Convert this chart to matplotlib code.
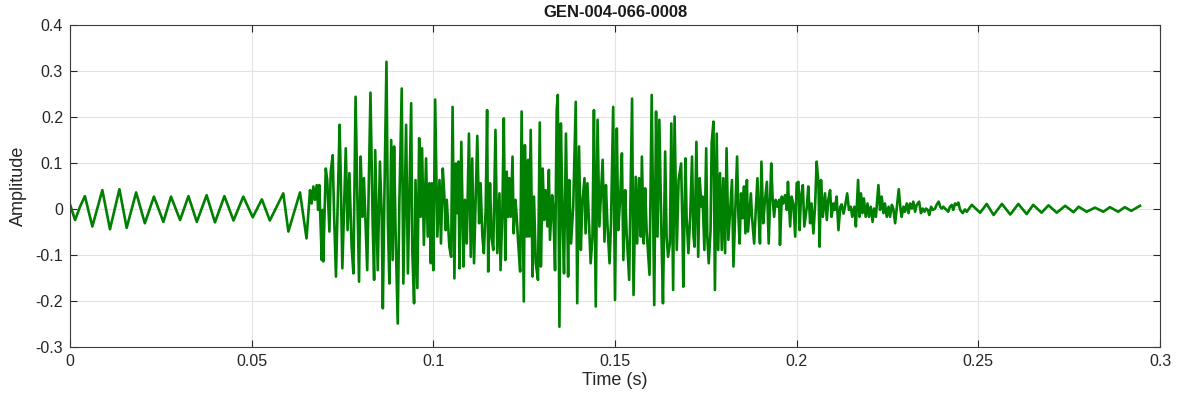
import numpy as np
import matplotlib
matplotlib.use("Agg")
import matplotlib.pyplot as plt

# peaks and troughs of the trace (time in ms)
time_ms = [
    0.0, 1.4, 2.75, 4.1, 6.15, 8.9, 11.0, 13.6, 15.6, 18.2, 20.6, 23.1, 25.7, 27.8,
    30.3, 32.6, 34.9, 37.6, 39.9, 42.5, 45.0, 47.7, 50.3, 52.8, 55.0, 58.7, 60.1,
    63.3, 65.1,
    66.06, 66.5, 66.98, 67.4, 67.9, 68.3, 68.6, 69.3, 69.55, 69.7, 70.4, 70.8, 71.4,
    71.76, 72.3, 72.7, 73.2, 74.2, 74.5, 74.96, 75.9, 76.4, 76.9, 77.5, 78.0, 78.6,
    79.1, 79.55, 80.0, 80.5, 80.9, 81.8, 82.7, 83.3, 83.7, 84.0, 84.7, 85.3, 85.8,
    86.1, 86.5, 87.1, 87.5, 87.9, 88.4, 88.8, 89.2, 89.6, 90.2, 90.65,
    91.3, 91.75, 92.5, 93.0, 93.9, 94.2, 94.7, 95.1, 95.6, 96.1, 96.5, 96.9, 97.4,
    98.0, 98.45, 98.9, 99.3, 99.6, 100.0, 100.5, 101.1, 101.7, 102.1, 102.6, 103.0,
    103.4, 103.7, 104.4, 104.9, 105.3, 105.8, 106.2, 106.6, 106.9, 107.2, 107.7,
    108.3, 108.7, 109.2, 109.8, 110.3, 110.7, 111.2, 112.1, 112.6, 113.0, 113.5,
    113.9, 114.4, 114.8, 115.1, 115.6, 116.0, 116.5, 117.1, 117.6, 118.2,
    118.5, 119.0, 119.4, 119.8, 120.2, 120.6, 120.9, 121.3, 121.8, 122.1, 122.6,
    122.95, 123.3, 123.9, 124.3, 124.9, 125.2, 125.7, 126.1, 126.4, 126.8, 127.3,
    127.7, 128.2, 128.8, 129.3, 129.6, 130.1, 130.5, 130.9, 131.4, 131.8, 132.1,
    132.7, 133.0, 133.5, 133.95, 134.25, 134.7, 135.1, 135.6, 135.97, 136.5, 137.1,
    137.4, 137.9, 138.5, 139.2, 139.6, 140.1, 140.6, 141.0, 141.6, 141.9, 142.4,
    143.3, 143.8, 144.2, 144.7, 145.2, 145.7, 146.6, 147.1, 147.5, 147.9, 148.5,
    148.9, 149.5, 150.0, 150.5, 150.9, 151.4, 151.9, 152.3, 152.8, 153.2, 153.9,
    154.7, 155.1, 155.7, 156.1, 156.6, 157.1, 157.4, 157.9, 158.3, 158.7, 159.5,
    160.1, 160.8, 161.3, 161.7, 162.2, 162.8, 163.2, 163.8, 164.2, 164.6, 165.1,
    165.5, 166.0, 166.4, 167.0, 167.5,
    168.2, 168.6, 168.8, 169.4, 169.7, 170.2, 170.7, 171.2, 171.6, 171.9, 172.4,
    172.9, 173.3, 173.8, 174.1, 174.6, 175.1, 175.4, 175.8, 176.3, 176.6, 177.1,
    177.5, 178.0, 178.4, 178.9, 179.4, 179.8, 180.3, 180.7, 181.2, 181.7, 182.2,
    182.6, 183.0, 183.6, 183.97, 184.3, 184.7, 185.1, 185.5, 185.9, 186.3, 186.6,
    187.4, 187.7, 188.3, 188.7, 189.2, 189.6, 189.9, 190.3, 190.8, 191.2, 191.8,
    192.3,
    193.0, 193.4, 193.8, 194.2, 194.7, 195.2, 195.4, 195.9, 196.3, 196.8, 197.3,
    197.6, 198.2, 198.6, 199.1, 199.6, 200.0, 200.5, 200.8, 201.2, 201.7, 202.1,
    202.8, 203.2, 203.7, 204.1, 204.6, 205.1, 205.5, 206.0, 206.3, 206.7, 207.2,
    207.8, 208.3, 208.7, 209.2, 209.6, 210.1, 210.5, 211.0, 211.5, 212.0, 212.4,
    212.9, 213.3, 213.9, 214.4, 214.9, 215.3, 215.9, 216.3, 216.9,
    217.3, 217.7, 218.1, 218.5, 219.0, 219.5, 219.9, 220.4, 220.9, 221.3, 221.8,
    222.5, 222.95, 223.4, 223.9, 224.3, 224.8, 225.3, 225.7, 226.2, 226.6, 227.1,
    227.5, 228.1, 228.6, 228.9, 229.4, 229.8, 230.3, 230.8, 231.2, 231.7, 232.1,
    232.6, 233.05, 233.7, 234.2, 234.7, 235.2, 235.6, 236.1, 236.5, 237.0, 237.5,
    238.1, 238.5, 239.1, 239.5, 239.9, 240.4, 240.8, 241.3, 241.7,
    242.2, 242.7, 243.1, 243.6, 244.05, 244.5, 245.0, 245.7, 246.3, 246.8, 248.2,
    250.5, 252.3, 254.2, 256.5, 258.8, 261.0, 263.3, 265.1, 267.4, 269.3, 271.6,
    273.9, 276.2, 277.6, 279.8, 282.1, 284.4, 286.2, 288.5, 290.3, 292.1, 294.5,
]

amplitude = [
    0.01, -0.024, 0.005, 0.028, -0.038, 0.041, -0.044, 0.043, -0.041, 0.036, -0.031,
    0.027, -0.028, 0.027, -0.024, 0.028, -0.028, 0.03, -0.029, 0.028, -0.025, 0.027,
    -0.018, 0.021, -0.025, 0.034, -0.049, 0.036, -0.064,
    0.041, 0.012, 0.049, 0.02, 0.052, -0.002, 0.052, -0.111, -0.002, -0.114, 0.088,
    0.063, -0.049, 0.081, 0.117, -0.017, -0.147, 0.183, 0.078, -0.129, 0.132, -0.046,
    0.078, -0.08, -0.14, 0.244, 0.02, -0.158, 0.114, -0.017, 0.067, -0.133, 0.253,
    -0.031, -0.154, 0.128, -0.133, 0.103, -0.017, -0.216, 0.012, 0.32, -0.031,
    -0.162, 0.15, -0.111, 0.136, -0.046, -0.249, 0.012,
    0.262, -0.162, 0.183, -0.14, 0.23, -0.089, -0.205, 0.063, -0.172, 0.154, -0.017,
    0.132, -0.078, 0.11, -0.06, 0.056, -0.118, 0.056, -0.133, 0.238, -0.06, 0.063,
    -0.075, 0.088, 0.034, -0.046, 0.02, -0.082, -0.104, 0.222, -0.151, 0.099, -0.009,
    0.103, -0.129, 0.146, -0.125, 0.02, -0.075, 0.164, -0.104, 0.11, -0.118, 0.159,
    -0.031, 0.056, -0.06, -0.096, -0.002, 0.215, -0.136, 0.056, -0.06, -0.089, 0.172,
    -0.096, 0.034,
    -0.133, -0.005, 0.197, -0.111, 0.081, -0.017, 0.067, -0.017, 0.114, -0.053, 0.02,
    -0.017, -0.067, -0.136, 0.212, -0.201, 0.139, -0.06, 0.107, -0.06, 0.172, -0.147,
    0.027, -0.118, -0.154, 0.188, -0.125, 0.088, -0.024, 0.041, -0.038, 0.085,
    -0.067, 0.03, 0.005, -0.133, 0.215, 0.248, -0.256, 0.186, -0.031, -0.14, 0.164,
    -0.147, 0.063, -0.075, 0.005, 0.233, -0.205, 0.136, -0.089, 0.012, 0.067, -0.053,
    0.056,
    -0.118, -0.06, 0.215, -0.212, 0.194, -0.038, 0.107, -0.071, 0.052, -0.031, -0.118,
    -0.031, 0.222, -0.198, 0.175, -0.046, 0.02, 0.121, -0.111, 0.041, -0.053, -0.154,
    0.24, -0.187, 0.07, -0.075, 0.067, -0.06, 0.114, -0.075, 0.045, -0.046, -0.143,
    0.248, -0.209, 0.212, -0.06, 0.194, -0.06, -0.205, 0.125, -0.06, -0.104, -0.075,
    0.186, -0.176, 0.201, -0.089, 0.063,
    0.099, -0.053, -0.169, 0.11, -0.017, -0.096, -0.017, 0.114, -0.06, -0.082, 0.146,
    -0.104, 0.067, 0.005, 0.027, -0.089, 0.132, -0.06, -0.118, -0.046, 0.143, 0.19,
    -0.176, 0.164, -0.089, 0.078, -0.089, 0.067, -0.096, 0.132, -0.067, -0.002, 0.063,
    -0.125, -0.031, 0.114, -0.017, -0.075, 0.034, -0.02, 0.049, -0.053, 0.063, -0.049,
    0.034, -0.017, -0.075, -0.009, 0.067, -0.024, -0.075, 0.103, -0.031, 0.012, 0.059,
    -0.075,
    0.099, 0.02, -0.017, 0.02, 0.005, 0.02, -0.078, 0.027, 0.012, 0.03, -0.002,
    0.059, -0.038, 0.027, 0.01, -0.06, 0.056, 0.059, -0.046, 0.027, 0.052, -0.038,
    0.005, 0.049, -0.031, 0.012, -0.053, 0.012, 0.103, 0.056, -0.082, 0.063, -0.017,
    0.034, -0.024, 0.02, 0.041, -0.017, 0.012, -0.002, 0.027, -0.046, 0.005, 0.01,
    -0.01, 0.005, 0.034, -0.002, 0.005, -0.017, 0.005, -0.038, 0.063,
    -0.017, 0.034, -0.009, 0.023, -0.017, 0.012, -0.017, 0.005, -0.028, 0.001, -0.017,
    0.052, -0.002, 0.027, -0.009, 0.012, -0.017, 0.005, -0.017, 0.009, 0.001, -0.031,
    -0.002, 0.043, -0.002, -0.017, 0.005, -0.006, 0.012, -0.009, 0.012, 0.001, 0.016,
    -0.006, 0.009, 0.016, -0.009, 0.001, -0.006, 0.001, -0.002, -0.013, 0.005, -0.002,
    0.001, 0.009, 0.016, 0.005, 0.001, 0.005, 0.001, -0.002, -0.006,
    0.005, 0.009, -0.002, 0.012, 0.009, 0.014, -0.002, -0.009, -0.001, -0.006, 0.009,
    -0.008, 0.011, -0.013, 0.011, -0.012, 0.011, -0.011, 0.009, -0.008, 0.008, -0.008,
    0.007, -0.007, 0.005, -0.006, 0.003, -0.006, 0.004, -0.006, 0.004, -0.004, 0.007,
]

x_ticks = [0, 0.05, 0.1, 0.15, 0.2, 0.25, 0.3]
x_tick_labels = ["0", "0.05", "0.1", "0.15", "0.2", "0.25", "0.3"]
y_ticks = [-0.3, -0.2, -0.1, 0, 0.1, 0.2, 0.3, 0.4]
y_tick_labels = ["-0.3", "-0.2", "-0.1", "0", "0.1", "0.2", "0.3", "0.4"]

plt.rcParams["font.family"] = ["Liberation Sans", "DejaVu Sans"]

t = np.array(time_ms) / 1000.0
a = np.array(amplitude)

fig = plt.figure(figsize=(11.77, 4.04), dpi=100)
ax = fig.add_axes([70 / 1177, 57 / 404, 1090 / 1177, 322 / 404])

ax.plot(t, a, color="#008000", linewidth=1.9, solid_joinstyle="round")

ax.set_xlim(0, 0.3)
ax.set_ylim(-0.3, 0.4)
ax.set_xticks(x_ticks)
ax.set_xticklabels(x_tick_labels)
ax.set_yticks(y_ticks)
ax.set_yticklabels(y_tick_labels)

ax.grid(True, color="#e3e3e3", linewidth=0.8)
ax.set_axisbelow(True)
ax.tick_params(direction="in", length=5, width=0.8, colors="#262626",
               labelsize=11.5, top=True, right=True, pad=5)
for sp in ax.spines.values():
    sp.set_color("#3c3c3c")
    sp.set_linewidth(0.8)

ax.set_xlabel("Time (s)", fontsize=13, color="#262626", labelpad=2)
ax.set_ylabel("Amplitude", fontsize=13, color="#262626", labelpad=6)
ax.set_title("GEN-004-066-0008", fontsize=12, fontweight="bold", color="#1a1a1a", pad=6)

fig.savefig("out.png", dpi=100)
